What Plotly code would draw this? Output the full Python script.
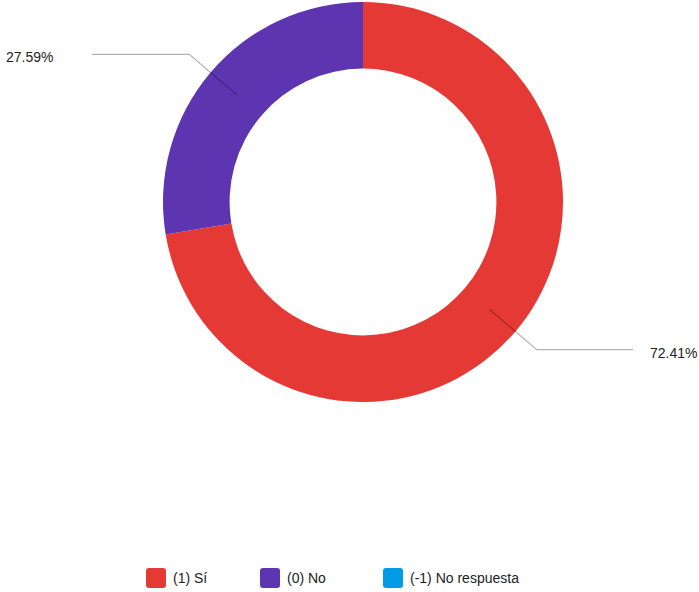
import math
import plotly.graph_objects as go

labels = ["(1) Sí", "(0) No", "(-1) No respuesta"]
values = [72.41, 27.59, 0.0]
colors = ["#e53935", "#5e35b1", "#039be5"]

W, H = 699, 592
CX, CY, R = 363, 202, 200
HOLE = 0.667


def px(x):
    return x / W


def py(y):
    return 1 - y / H


fig = go.Figure()
fig.add_trace(go.Pie(
    labels=labels, values=values, hole=HOLE, sort=False,
    direction="clockwise", rotation=0,
    marker=dict(colors=colors, line=dict(width=0)),
    textinfo="none", hoverinfo="label+percent", showlegend=False,
    domain=dict(x=[px(CX - R), px(CX + R)], y=[py(CY + R), py(CY - R)]),
))

shapes = []
annotations = []
total = sum(values)
cum = 0.0
for lab, v, c in zip(labels, values, colors):
    if v <= 0:
        cum += v
        continue
    mid = (cum + v / 2) / total * 2 * math.pi
    cum += v
    sx, sy = math.sin(mid), -math.cos(mid)
    x1, y1 = CX + 166 * sx, CY + 166 * sy
    x2, y2 = CX + 228 * sx, CY + 228 * sy
    if sx >= 0:
        x3 = 633
        tx, anchor = 648, "left"
    else:
        x3 = 92
        tx, anchor = 55, "right"
    path = f"M {px(x1)},{py(y1)} L {px(x2)},{py(y2)} L {px(x3)},{py(y2)}"
    shapes.append(dict(type="path", xref="paper", yref="paper", path=path,
                       line=dict(color="rgba(0,0,0,0.3)", width=1.2)))
    annotations.append(dict(x=px(tx), y=py(y2 + 3), xref="paper", yref="paper",
                            text=f"{v / total * 100:.2f}%", showarrow=False,
                            xanchor=anchor, yanchor="middle",
                            font=dict(size=14, color="#222222")))

# custom legend with rounded squares
leg_x = [146, 260, 383]
leg_y = 578
s = 10
rr = 3
for lx, lab, c in zip(leg_x, labels, colors):
    x0, x1 = lx, lx + 2 * s
    y0, y1 = leg_y - s, leg_y + s
    path = (f"M {px(x0 + rr)},{py(y0)} L {px(x1 - rr)},{py(y0)} "
            f"Q {px(x1)},{py(y0)} {px(x1)},{py(y0 + rr)} "
            f"L {px(x1)},{py(y1 - rr)} Q {px(x1)},{py(y1)} {px(x1 - rr)},{py(y1)} "
            f"L {px(x0 + rr)},{py(y1)} Q {px(x0)},{py(y1)} {px(x0)},{py(y1 - rr)} "
            f"L {px(x0)},{py(y0 + rr)} Q {px(x0)},{py(y0)} {px(x0 + rr)},{py(y0)} Z")
    shapes.append(dict(type="path", xref="paper", yref="paper", path=path,
                       fillcolor=c, line=dict(width=0)))
    annotations.append(dict(x=px(x1 + 5), y=py(leg_y), xref="paper", yref="paper",
                            text=lab, showarrow=False, xanchor="left",
                            yanchor="middle", font=dict(size=14, color="#222222")))

fig.update_layout(
    width=W, height=H,
    margin=dict(l=0, r=0, t=0, b=0),
    paper_bgcolor="white", plot_bgcolor="white",
    font=dict(family="Liberation Sans, Arial, sans-serif", size=14, color="#222222"),
    shapes=shapes, annotations=annotations,
)

fig.write_html("out.html",
               config={"displayModeBar": False},
               post_script="document.body.style.margin='0';document.body.style.overflow='hidden';")
